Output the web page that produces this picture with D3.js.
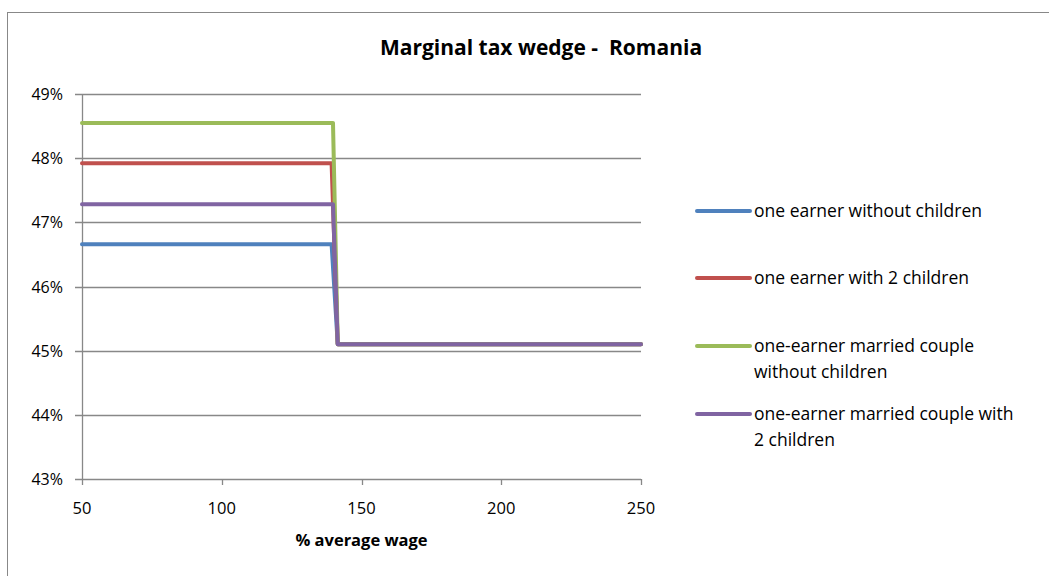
<!DOCTYPE html>
<html>
<head>
    <title>Marginal tax wedge - Romania</title>
    <script src="https://cdn.jsdelivr.net/npm/d3@7"></script>
    <style>
        body { margin: 0; background: #fff; }
        text { font-family: "Open Sans", "Noto Sans", sans-serif; fill: #000; }
    </style>
</head>

<body>
    <svg width="1049" height="576" id="mainsvg"></svg>
    <script>
        // data (x = % of average wage, y = marginal tax wedge %)
        const seriesNames = [
            ['one earner without children'],
            ['one earner with 2 children'],
            ['one-earner married couple', 'without children'],
            ['one-earner married couple with', '2 children']
        ];
        const colors = ['#4F81BD', '#C0504D', '#9BBB59', '#8064A2'];
        const wageX = [
            [50, 139.3, 141.5, 250],
            [50, 139.3, 141.5, 250],
            [50, 139.8, 141.5, 250],
            [50, 139.8, 141.5, 250]
        ];
        const blueVals = [46.66, 46.66, 45.1, 45.1];
        const redVals = [47.92, 47.92, 45.1, 45.1];
        const greenVals = [48.55, 48.55, 45.1, 45.1];
        const purpleVals = [47.28, 47.28, 45.1, 45.1];
        const xTicks = [50, 100, 150, 200, 250];
        const yTicks = [43, 44, 45, 46, 47, 48, 49];

        const allVals = [blueVals, redVals, greenVals, purpleVals];
        const series = allVals.map((vals, i) => ({
            name: seriesNames[i],
            color: colors[i],
            points: vals.map((v, j) => ({ x: wageX[i][j], y: v }))
        }));

        const svg = d3.select('svg');
        const plotL = 82, plotR = 641, plotT = 94, plotB = 479;

        // chart border
        svg.append('rect')
            .attr('x', 7.5).attr('y', 12.5)
            .attr('width', 1060).attr('height', 580)
            .attr('fill', 'none').attr('stroke', '#888').attr('stroke-width', 1);

        const x = d3.scaleLinear().domain([50, 250]).range([plotL, plotR]);
        const y = d3.scaleLinear().domain([43, 49]).range([plotB, plotT]);

        // gridlines
        svg.append('g').selectAll('line').data(yTicks).join('line')
            .attr('x1', plotL - 7).attr('x2', plotR)
            .attr('y1', d => Math.round(y(d)) + 0.5).attr('y2', d => Math.round(y(d)) + 0.5)
            .attr('stroke', '#888').attr('stroke-width', 1.3);

        // y axis
        svg.append('line')
            .attr('x1', plotL + 0.5).attr('x2', plotL + 0.5)
            .attr('y1', plotT).attr('y2', plotB)
            .attr('stroke', '#888').attr('stroke-width', 1.3);
        svg.append('g').selectAll('text').data(yTicks).join('text')
            .attr('x', 63).attr('y', d => y(d) + 6)
            .attr('text-anchor', 'end')
            .style('font-size', '16px')
            .text(d => d + '%');

        // x axis ticks and labels
        svg.append('g').selectAll('line').data(xTicks).join('line')
            .attr('x1', d => Math.round(x(d)) + 0.5).attr('x2', d => Math.round(x(d)) + 0.5)
            .attr('y1', plotB).attr('y2', plotB + 6)
            .attr('stroke', '#888').attr('stroke-width', 1.3);
        svg.append('g').selectAll('text').data(xTicks).join('text')
            .attr('x', d => x(d)).attr('y', plotB + 35)
            .attr('text-anchor', 'middle')
            .style('font-size', '16.5px')
            .text(d => d);

        svg.append('text')
            .attr('x', (plotL + plotR) / 2).attr('y', 546)
            .attr('text-anchor', 'middle')
            .style('font-size', '16.5px').style('font-weight', 'bold')
            .text('% average wage');

        svg.append('text')
            .attr('x', 541).attr('y', 55)
            .attr('text-anchor', 'middle')
            .style('font-size', '21px').style('font-weight', 'bold')
            .style('white-space', 'pre')
            .text('Marginal tax wedge -  Romania');

        // series lines
        const line = d3.line().x(d => x(d.x)).y(d => y(d.y));
        svg.append('g').selectAll('path').data(series).join('path')
            .attr('d', d => line(d.points))
            .attr('fill', 'none')
            .attr('stroke', d => d.color)
            .attr('stroke-width', 4)
            .attr('stroke-linejoin', 'round')
            .attr('stroke-linecap', 'round');

        // legend
        const legendY = [211, 278, 346, 414];
        const legend = svg.append('g').selectAll('g').data(series).join('g')
            .attr('transform', (d, i) => `translate(695, ${legendY[i]})`);
        legend.append('line')
            .attr('x1', 2).attr('x2', 55)
            .attr('stroke', d => d.color).attr('stroke-width', 4)
            .attr('stroke-linecap', 'round');
        legend.append('text')
            .attr('x', 59).attr('y', 6)
            .style('font-size', '17.5px')
            .selectAll('tspan').data(d => d.name).join('tspan')
            .attr('x', 59).attr('dy', (d, i) => i === 0 ? 0 : 26)
            .text(d => d);
    </script>
</body>
</html>
